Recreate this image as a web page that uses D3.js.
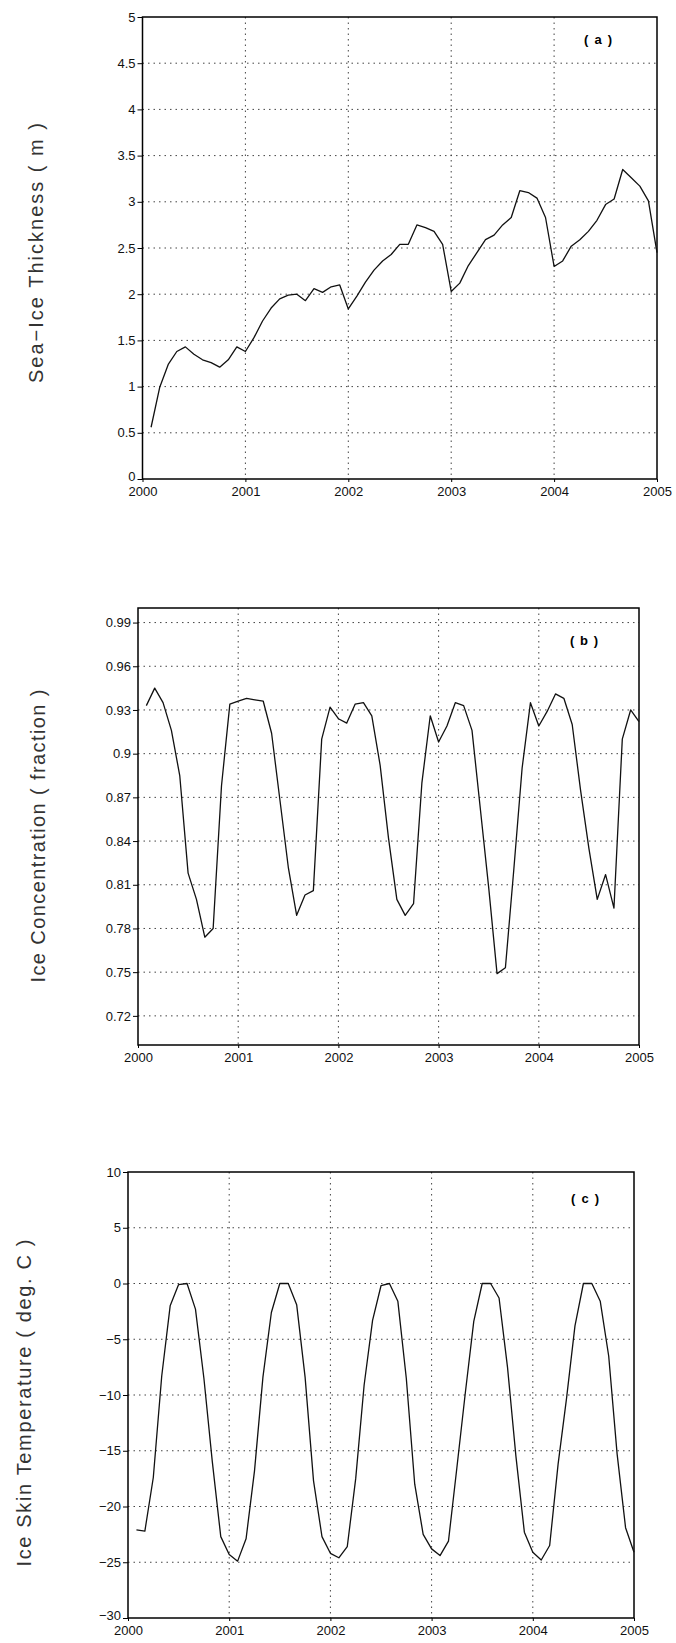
<!DOCTYPE html>
<html>
<head>
<meta charset="utf-8">
<script src="https://cdn.jsdelivr.net/npm/d3@7"></script>
<style>
  body { margin: 0; background: #fff; }
  svg text { font-family: "Liberation Sans", Arial, sans-serif; }
</style>
</head>
<body>
<svg id="chart" width="676" height="1643"></svg>
<script>
// x axis: years, monthly samples Feb 2000 .. Jan 2005
const years = [2000, 2001, 2002, 2003, 2004, 2005];
const months = d3.range(1, 61).map(i => 2000 + i / 12);

// (a) sea-ice thickness, m
const thickness = [
  0.56, 0.99, 1.24, 1.38, 1.43, 1.35, 1.29, 1.26, 1.21, 1.29, 1.43, 1.38,
  1.53, 1.71, 1.85, 1.95, 1.99, 2.00, 1.93, 2.06, 2.02, 2.08, 2.10, 1.84,
  1.98, 2.13, 2.26, 2.36, 2.43, 2.54, 2.54, 2.75, 2.72, 2.68, 2.54, 2.03,
  2.12, 2.31, 2.45, 2.59, 2.64, 2.75, 2.83, 3.12, 3.10, 3.04, 2.83, 2.30,
  2.36, 2.52, 2.59, 2.68, 2.80, 2.97, 3.03, 3.35, 3.26, 3.17, 3.01, 2.45
];
const thicknessTicks = [0, 0.5, 1, 1.5, 2, 2.5, 3, 3.5, 4, 4.5, 5];

// (b) ice concentration, fraction
const concentration = [
  0.933, 0.945, 0.935, 0.916, 0.885, 0.818, 0.800, 0.774, 0.780, 0.878, 0.934, 0.936,
  0.938, 0.937, 0.936, 0.914, 0.868, 0.822, 0.789, 0.803, 0.806, 0.910, 0.932, 0.924,
  0.921, 0.934, 0.935, 0.926, 0.892, 0.842, 0.800, 0.789, 0.797, 0.880, 0.926, 0.908,
  0.919, 0.935, 0.933, 0.916, 0.862, 0.808, 0.749, 0.753, 0.820, 0.890, 0.935, 0.919,
  0.929, 0.941, 0.938, 0.920, 0.875, 0.835, 0.800, 0.817, 0.794, 0.910, 0.930, 0.922
];
const concentrationTicks = [0.72, 0.75, 0.78, 0.81, 0.84, 0.87, 0.9, 0.93, 0.96, 0.99];

// (c) ice skin temperature, deg C
const skinTemp = [
  -22.1, -22.2, -17.4, -8.3, -2.0, -0.1, 0.0, -2.3, -8.5, -16.0, -22.7, -24.3,
  -24.9, -22.9, -16.8, -8.4, -2.6, 0.0, 0.0, -1.9, -8.4, -17.7, -22.7, -24.2,
  -24.6, -23.6, -17.5, -9.1, -3.3, -0.2, 0.0, -1.6, -8.5, -18.0, -22.5, -23.8,
  -24.4, -23.1, -16.5, -9.8, -3.4, 0.0, 0.0, -1.3, -7.5, -15.5, -22.3, -24.1,
  -24.8, -23.5, -16.2, -10.3, -3.8, 0.0, 0.0, -1.6, -6.5, -15.3, -21.9, -24.1
];
const skinTempTicks = [-30, -25, -20, -15, -10, -5, 0, 5, 10];

const panels = [
  { values: thickness, ticks: thicknessTicks, domain: [0, 5],
    title: 'Sea\u2212Ice Thickness ( m )', label: '(a)',
    left: 142.5, right: 657, top: 17, bottom: 479,
    titleX: 36, titleY: 253, titleLen: 260, labelX: 598, labelY: 39 },
  { values: concentration, ticks: concentrationTicks, domain: [0.70, 1.00],
    title: 'Ice Concentration ( fraction )', label: '(b)',
    left: 138, right: 639, top: 608, bottom: 1045,
    titleX: 38, titleY: 836, titleLen: 293, labelX: 584, labelY: 640 },
  { values: skinTemp, ticks: skinTempTicks, domain: [-30, 10],
    title: 'Ice Skin Temperature ( deg. C )', label: '(c)',
    left: 128, right: 634, top: 1172, bottom: 1618,
    titleX: 24, titleY: 1403, titleLen: 327, labelX: 585, labelY: 1198 }
];

const svg = d3.select('#chart');

const drawPanel = (p) => {
  const x = d3.scaleLinear().domain([2000, 2005]).range([p.left, p.right]);
  const y = d3.scaleLinear().domain(p.domain).range([p.bottom, p.top]);
  const g = svg.append('g');

  // dotted grid
  g.selectAll('line.hgrid')
    .data(p.ticks.filter(t => t > p.domain[0] && t < p.domain[1]))
    .enter().append('line')
      .attr('class', 'hgrid')
      .attr('x1', p.left).attr('x2', p.right)
      .attr('y1', d => y(d)).attr('y2', d => y(d))
      .attr('stroke', '#444').attr('stroke-width', 1)
      .attr('stroke-dasharray', '1.5,4');
  g.selectAll('line.vgrid')
    .data(years.slice(1, -1))
    .enter().append('line')
      .attr('class', 'vgrid')
      .attr('x1', d => x(d)).attr('x2', d => x(d))
      .attr('y1', p.top).attr('y2', p.bottom)
      .attr('stroke', '#444').attr('stroke-width', 1)
      .attr('stroke-dasharray', '1.5,4');

  // axes
  const yAxis = g.append('g')
    .attr('transform', `translate(${p.left},0)`)
    .call(d3.axisLeft(y).tickValues(p.ticks).tickFormat(d3.format('~g')).tickSize(5).tickPadding(2));
  const xAxis = g.append('g')
    .attr('transform', `translate(0,${p.bottom})`)
    .call(d3.axisBottom(x).tickValues(years).tickFormat(d3.format('d')).tickSize(3).tickPadding(5));
  [yAxis, xAxis].forEach(a => {
    a.select('.domain').remove();
    a.selectAll('text').attr('font-size', 13).attr('fill', '#111')
      .style('font-family', '"Liberation Sans", Arial, sans-serif');
  });
  // bottom y label sits just above the year labels, as in the original
  yAxis.selectAll('.tick').filter(d => d === p.domain[0])
    .select('text').attr('dy', '0.1em');

  // frame
  g.append('rect')
    .attr('x', p.left).attr('y', p.top)
    .attr('width', p.right - p.left).attr('height', p.bottom - p.top)
    .attr('fill', 'none').attr('stroke', '#000').attr('stroke-width', 1.5);

  // series
  const line = d3.line().x((d, i) => x(months[i])).y(d => y(d));
  g.append('path')
    .datum(p.values)
    .attr('d', line)
    .attr('fill', 'none').attr('stroke', '#111').attr('stroke-width', 1.3)
    .attr('stroke-linejoin', 'round');

  // panel label
  g.append('text')
    .attr('x', p.labelX).attr('y', p.labelY)
    .attr('text-anchor', 'middle').attr('dominant-baseline', 'central')
    .attr('font-size', 13).attr('font-weight', 'bold')
    .attr('textLength', 28).attr('lengthAdjust', 'spacing')
    .text(p.label);

  // y title
  g.append('text')
    .attr('transform', `translate(${p.titleX},${p.titleY}) rotate(-90)`)
    .attr('text-anchor', 'middle').attr('dominant-baseline', 'central')
    .attr('font-size', 20).attr('fill', '#333')
    .attr('textLength', p.titleLen).attr('lengthAdjust', 'spacing')
    .text(p.title);
};

panels.forEach(drawPanel);
</script>
</body>
</html>
